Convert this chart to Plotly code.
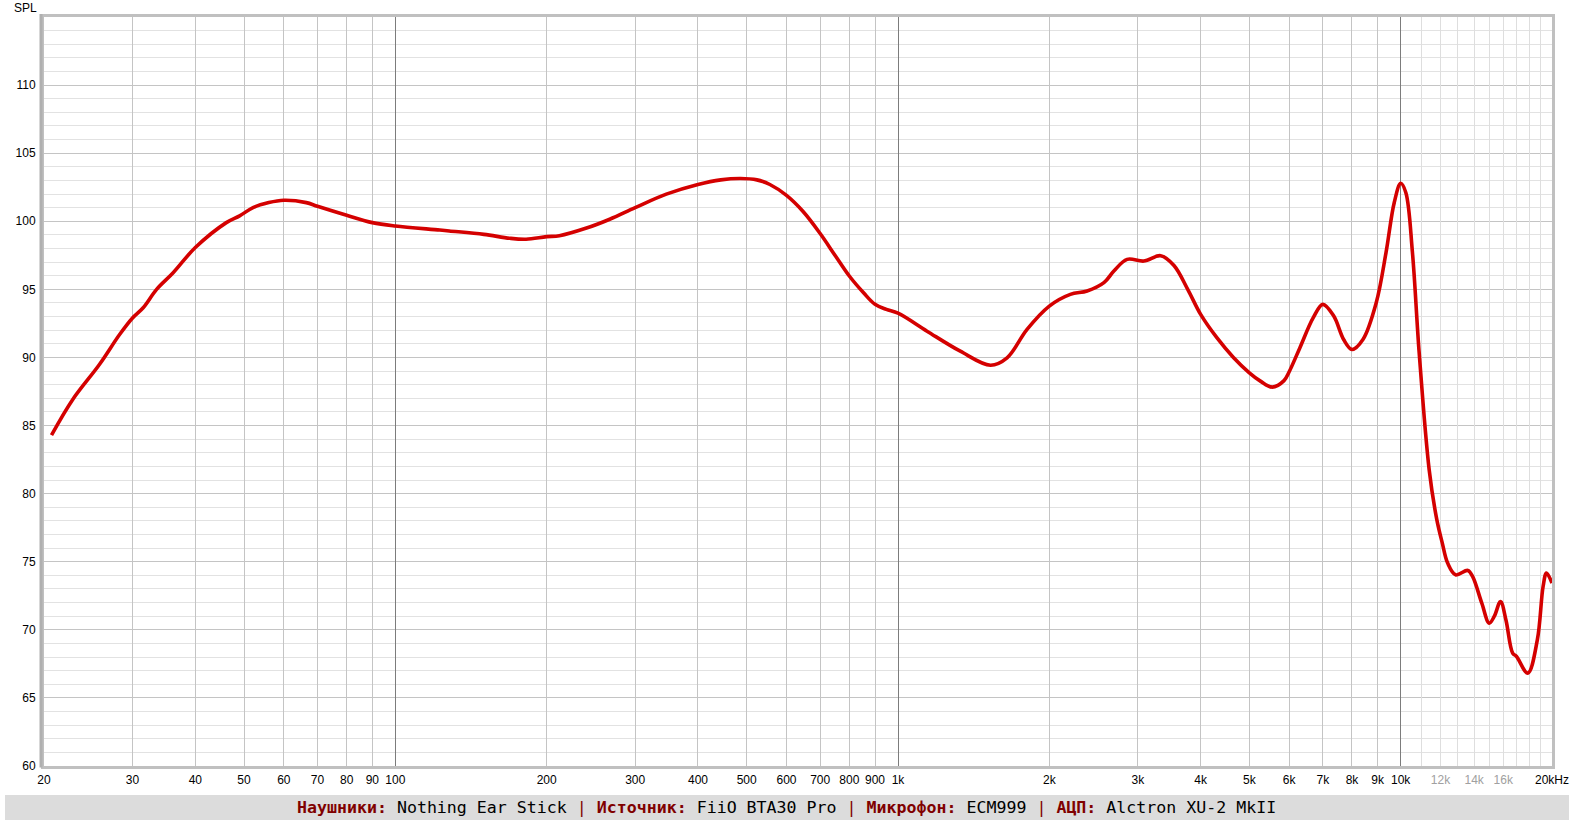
import math
import plotly.graph_objects as go

# ---- data ----
freq_hz = [20.7, 22.8, 25.8, 28.3, 30, 31.5, 33.5, 36.1, 40, 46.1, 49, 52.1, 56, 60, 66.5, 70, 80, 90,
           100, 122.6, 128, 150, 169, 182, 200, 212, 240, 267, 300, 346, 400, 444, 486, 524, 556, 600,
           648, 700, 751, 800, 854, 900, 948, 1000, 1142, 1330, 1528, 1648, 1806, 2000, 2202, 2378,
           2568, 2688, 2856, 3084, 3330, 3540, 3770, 4000, 4308, 4648, 5000, 5260, 5550, 5860, 6000,
           6300, 6700, 7000, 7360, 7700, 8000, 8412, 8940, 9350, 9710, 10000, 10240, 10554, 10884,
           11394, 11800, 12100, 12400, 12860, 13600, 13900, 14500, 15000, 15350, 15800, 16200, 16700,
           17000, 17900, 18700, 19200, 19500, 20000]
spl_db = [84.3, 86.9, 89.5, 91.7, 92.9, 93.65, 95.0, 96.2, 98.07, 99.9, 100.4, 101.0, 101.37, 101.54,
          101.37, 101.1, 100.44, 99.9, 99.65, 99.36, 99.29, 99.04, 98.75, 98.68, 98.87, 98.94, 99.5,
          100.15, 101.0, 101.99, 102.7, 103.04, 103.14, 103.04, 102.7, 101.9, 100.7, 99.1, 97.45,
          95.98, 94.75, 93.9, 93.53, 93.25, 91.93, 90.46, 89.43, 89.97, 92.06, 93.77, 94.63, 94.88,
          95.49, 96.35, 97.2, 97.08, 97.47, 96.75, 95.0, 93.16, 91.45, 90.0, 88.87, 88.26, 87.82,
          88.3, 88.95, 90.7, 92.92, 93.9, 93.04, 91.32, 90.59, 91.32, 94.02, 97.7, 101.38, 102.79,
          102.1, 97.7, 90.35, 81.76, 78.09, 76.37, 74.9, 74.04, 74.36, 73.92, 71.96, 70.49, 70.98,
          72.08, 70.7, 68.29, 68.04, 66.82, 69.26, 73.18, 74.17, 73.43]

x_tick_values = [20, 30, 40, 50, 60, 70, 80, 90, 100, 200, 300, 400, 500, 600, 700, 800, 900,
                 1000, 2000, 3000, 4000, 5000, 6000, 7000, 8000, 9000, 10000, 12000, 14000, 16000, 20000]
x_tick_labels = ["20", "30", "40", "50", "60", "70", "80", "90", "100", "200", "300", "400", "500",
                 "600", "700", "800", "900", "1k", "2k", "3k", "4k", "5k", "6k", "7k", "8k", "9k",
                 "10k", "12k", "14k", "16k", "20kHz"]
dim_labels = ["12k", "14k", "16k"]

grid_sub_x = [20, 30, 40, 50, 60, 70, 80, 90, 200, 300, 400, 500, 600, 700, 800, 900,
              2000, 3000, 4000, 5000, 6000, 7000, 8000, 9000]
grid_decade_x = [100, 1000, 10000]
grid_hf_x = [11000, 12000, 13000, 14000, 15000, 16000, 17000, 18000, 19000]

y_tick_values = [60, 65, 70, 75, 80, 85, 90, 95, 100, 105, 110]

footer_parts = [("Наушники:", "Nothing Ear Stick"), ("Источник:", "FiiO BTA30 Pro"),
                ("Микрофон:", "ECM999"), ("АЦП:", "Alctron XU-2 MkII")]

# ---- figure ----
W, H = 1574, 826
ML, MR, MT, MB = 44, 22, 17, 60
pw, ph = W - ML - MR, H - MT - MB
xr = [math.log10(20), math.log10(20000)]

fig = go.Figure()
fig.add_trace(go.Scatter(x=freq_hz, y=spl_db, mode="lines",
                         line=dict(color="#d40000", width=3.6, shape="spline", smoothing=1.0),
                         hoverinfo="x+y", showlegend=False))

grid_sets = [("x2", grid_sub_x, "#c4c4c4"), ("x3", grid_decade_x, "#7c7c7c"), ("x4", grid_hf_x, "#dedede")]
for ax, _, _ in grid_sets:
    fig.add_trace(go.Scatter(x=[20, 20000], y=[None, None], xaxis=ax, yaxis="y",
                             mode="lines", hoverinfo="skip", showlegend=False))

ticktext = [f"<span style='color:#a0a0a0'>{t}</span>" if t in dim_labels else t for t in x_tick_labels]
tickfont = dict(family="Liberation Sans, Arial", size=12, color="#000000")

layout = dict(
    width=W, height=H,
    margin=dict(l=ML, r=MR, t=MT, b=MB, pad=0, autoexpand=False),
    paper_bgcolor="#ffffff", plot_bgcolor="#ffffff",
    xaxis=dict(type="log", range=xr, tickmode="array", tickvals=x_tick_values, ticktext=ticktext,
               showgrid=False, zeroline=False, showline=True, mirror=True, linecolor="#a0a0a0",
               linewidth=1, ticks="outside", ticklen=3, tickcolor="rgba(0,0,0,0)",
               tickfont=tickfont, fixedrange=True, automargin=False),
    yaxis=dict(range=[60, 115], tickmode="array", tickvals=y_tick_values, showgrid=True,
               gridcolor="#c4c4c4", gridwidth=1, zeroline=False, showline=True, mirror=True,
               linecolor="#a0a0a0", linewidth=1, ticks="outside", ticklen=5,
               tickcolor="rgba(0,0,0,0)", tickfont=tickfont, automargin=False,
               minor=dict(dtick=1, tick0=60, showgrid=True, gridcolor="#e2e2e2", gridwidth=1, ticks=""),
               fixedrange=True),
)
for ax, vals, col in grid_sets:
    layout["xaxis" + ax[1:]] = dict(type="log", range=xr, overlaying="x", tickmode="array",
                                    tickvals=vals, showticklabels=False, ticks="", showgrid=True,
                                    gridcolor=col, gridwidth=1, zeroline=False, showline=False,
                                    fixedrange=True, automargin=False)
fig.update_layout(**layout)

# 3D-ish frame around plot area
px = 1.0 / pw
py = 1.0 / ph
fig.add_shape(type="rect", xref="paper", yref="paper", x0=-1.5 * px, x1=1 + 1.5 * px,
              y0=-1.5 * py, y1=1 + 1.5 * py, line=dict(color="#c0c0c0", width=3), layer="above")
fig.add_shape(type="line", xref="paper", yref="paper", x0=-3 * px, x1=-3 * px, y0=-1.5 * py,
              y1=1 + 3 * py, line=dict(color="#b0b0b0", width=3), layer="above")

# SPL label
fig.add_annotation(text="SPL", xref="paper", yref="paper", x=(39 - ML) * px, y=1 + (MT - 8) * py,
                   xanchor="right", yanchor="middle", showarrow=False,
                   font=dict(family="Liberation Sans, Arial", size=12, color="#000000"))

# footer band
fig.add_shape(type="rect", xref="paper", yref="paper", x0=(5 - ML) * px, x1=(1569 - ML) * px,
              y0=-(820 - (H - MB)) * py, y1=-(795 - (H - MB)) * py,
              fillcolor="#dcdcdc", line=dict(width=0), layer="below")
lab = "#800000"
pieces = []
for lbl, val in footer_parts:
    pieces.append(f"<b><span style='color:{lab}'>{lbl}</span></b> {val}")
footer_text = f" <span style='color:{lab}'>|</span> ".join(pieces)
fig.add_annotation(text=footer_text, xref="paper", yref="paper", x=(786 - ML) * px,
                   y=-(807.5 - (H - MB)) * py, xanchor="center", yanchor="middle", showarrow=False,
                   font=dict(family="DejaVu Sans Mono, Liberation Mono, monospace", size=16.6,
                             color="#000000"))

fig.write_html("out.html", config={"displayModeBar": False},
               post_script="document.documentElement.style.overflow='hidden';"
                           "document.body.style.overflow='hidden';"
                           "document.body.style.margin='0';")
